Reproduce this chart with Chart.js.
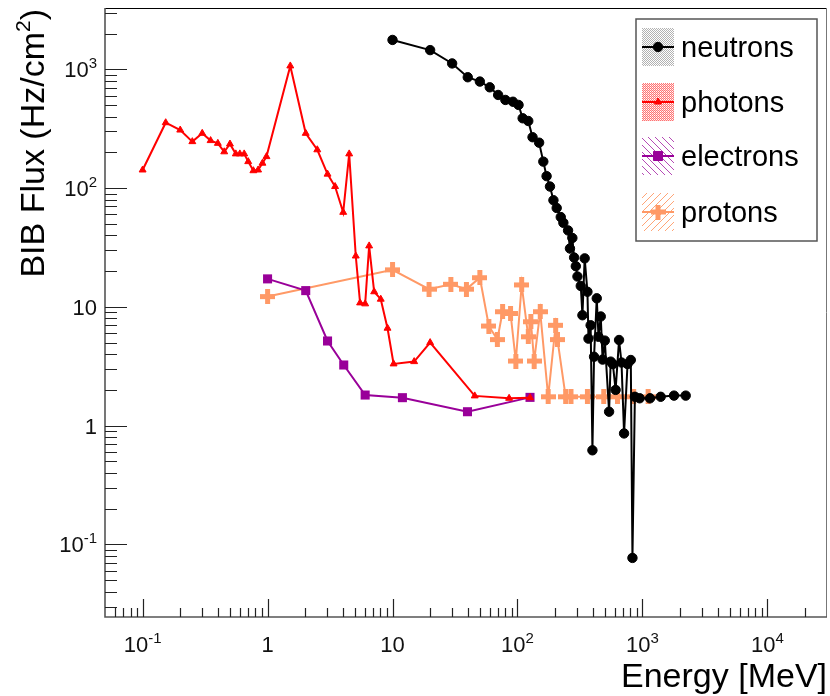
<!DOCTYPE html>
<html>
<head>
<meta charset="utf-8">
<script src="https://cdn.jsdelivr.net/npm/chart.js@4.4.1/dist/chart.umd.min.js"></script>
<style>
  html, body { margin: 0; padding: 0; background: #fff; }
  canvas { display: block; }
</style>
</head>
<body>
<canvas id="flux" width="830" height="696"></canvas>
<script>
// energies in MeV, flux in Hz/cm^2
const neutronE = [10, 20, 30, 40, 50, 60, 70, 80, 92, 102, 110, 122, 132, 149, 161, 171, 182, 194, 206, 222,
  233, 254, 263, 275, 284, 293, 302, 321, 331, 345, 363, 370, 385, 398, 410, 431, 445, 464, 480, 500,
  541, 557, 580, 610, 650, 680, 713, 760, 807, 832, 870, 950, 1150, 1400, 1790, 2220];
const neutronF = [1766, 1450, 1120, 857, 788, 705, 608, 552, 533, 501, 387, 367, 268, 241, 167, 126, 103, 79, 68, 57,
  51, 44, 31, 38, 26, 22, 18, 15, 8.5, 25.6, 13.4, 5.4, 7.0, 0.62, 3.8, 11.8, 5.6, 8.3, 3.6, 5.2,
  1.31, 3.46, 3.3, 2.0, 5.26, 3.4, 0.86, 3.3, 3.57, 0.077, 1.75, 1.7, 1.7, 1.75, 1.79, 1.79];

const photonE = [0.1, 0.153, 0.2, 0.25, 0.3, 0.35, 0.4, 0.45, 0.5, 0.557, 0.6, 0.65, 0.7, 0.77, 0.84, 0.91, 0.98,
  1.52, 2.02, 2.5, 3.02, 3.47, 4.03, 4.5, 5.08, 5.5, 6.04, 6.5, 7.13, 8.05, 9.12, 10.2, 14.9, 20, 45.5, 85.7, 126];
const photonF = [142, 355, 308, 246, 289, 251, 238, 202, 235, 194, 194, 194, 167, 140, 142, 162, 184,
  1067, 289, 210, 131, 103, 62.5, 194, 26.8, 10.8, 10.6, 32.6, 13.4, 11.6, 6.61, 3.31, 3.46, 5.0, 1.78, 1.70, 1.72];

const electronE = [1.0, 2.02, 3.02, 4.07, 6.04, 12.0, 39.8, 126];
const electronF = [17.2, 13.7, 5.16, 3.24, 1.81, 1.72, 1.31, 1.73];

const protonE = [1.0, 10, 19.6, 29.3, 39, 50, 59, 69, 76, 88, 97, 108, 122, 128, 136, 152, 176, 202, 209,
  243, 268, 363, 490, 631, 851, 1110];
const protonF = [12.2, 20.5, 14.1, 15.5, 14.1, 17.6, 6.9, 5.3, 9.1, 8.8, 3.5, 15.3, 5.6, 7.5, 3.5, 9.1, 1.75, 7.0, 5.3,
  1.75, 1.75, 1.75, 1.75, 1.75, 1.75, 1.75];

const xTicks = [0.1, 1, 10, 100, 1000, 10000];
const xTickLabels = ['10^-1', '1', '10', '10^2', '10^3', '10^4'];
const yTicks = [0.1, 1, 10, 100, 1000];
const yTickLabels = ['10^-1', '1', '10', '10^2', '10^3'];
const seriesNames = ['neutrons', 'photons', 'electrons', 'protons'];

const FONT = '"Liberation Sans", Arial, sans-serif';
const ORANGE = '#ff9966';
const PURPLE = '#990099';

const pts = (xs, ys) => xs.map((x, i) => ({ x: x, y: ys[i] }));

function plusMarker(color, size, arm) {
  const c = document.createElement('canvas');
  c.width = c.height = size;
  const g = c.getContext('2d');
  const o = (size - arm) / 2;
  g.fillStyle = color;
  g.fillRect(o, 0, arm, size);
  g.fillRect(0, o, size, arm);
  return c;
}
const protonMarker = plusMarker(ORANGE, 15, 5);

function makePattern(ctx, w, h, draw) {
  const c = document.createElement('canvas');
  c.width = w; c.height = h;
  draw(c.getContext('2d'));
  return ctx.createPattern(c, 'repeat');
}

// "10^2" -> base + superscript
function drawPow(ctx, label, x, y, align, size, supSize, supRise) {
  const [base, exp] = label.split('^');
  ctx.font = size + 'px ' + FONT;
  const wb = ctx.measureText(base).width;
  ctx.font = supSize + 'px ' + FONT;
  const we = exp ? ctx.measureText(exp).width : 0;
  const w = wb + we;
  let x0 = align === 'center' ? x - w / 2 : align === 'right' ? x - w : x;
  ctx.textAlign = 'left';
  ctx.textBaseline = 'alphabetic';
  ctx.font = size + 'px ' + FONT;
  ctx.fillText(base, x0, y);
  if (exp) {
    ctx.font = supSize + 'px ' + FONT;
    ctx.fillText(exp, x0 + wb, y - supRise);
  }
}

const decorations = {
  id: 'decorations',
  afterDatasetsDraw(chart) {
    const { ctx, chartArea: a, scales: { x, y } } = chart;
    ctx.save();

    // frame
    ctx.strokeStyle = '#000';
    ctx.lineWidth = 1;
    ctx.beginPath();
    ctx.moveTo(a.left, a.top + 0.5); ctx.lineTo(a.right, a.top + 0.5);
    ctx.stroke();
    ctx.strokeStyle = '#777';
    ctx.beginPath();
    ctx.moveTo(a.right - 0.5, a.top); ctx.lineTo(a.right - 0.5, a.bottom);
    ctx.stroke();
    ctx.strokeStyle = '#555';
    ctx.lineWidth = 1.6;
    ctx.beginPath();
    ctx.moveTo(a.left, a.top); ctx.lineTo(a.left, a.bottom); ctx.lineTo(a.right, a.bottom);
    ctx.stroke();

    // ticks, drawn inward
    ctx.strokeStyle = '#222';
    ctx.lineWidth = 1.2;
    ctx.beginPath();
    for (let d = -2; d <= 4; d++) {
      for (let m = 1; m <= 9; m++) {
        const v = m * Math.pow(10, d);
        if (v > x.min && v < x.max) {
          const px = Math.round(x.getPixelForValue(v)) + 0.5;
          ctx.moveTo(px, a.bottom);
          ctx.lineTo(px, a.bottom - (m === 1 ? 18 : 9));
        }
        if (v > y.min && v < y.max) {
          const py = Math.round(y.getPixelForValue(v)) + 0.5;
          ctx.moveTo(a.left, py);
          ctx.lineTo(a.left + (m === 1 ? 22 : 12), py);
        }
      }
    }
    ctx.stroke();

    // tick labels
    ctx.fillStyle = '#111';
    xTicks.forEach((v, i) => {
      drawPow(ctx, xTickLabels[i], x.getPixelForValue(v), 652, 'center', 22, 15, 9);
    });
    yTicks.forEach((v, i) => {
      drawPow(ctx, yTickLabels[i], 97, y.getPixelForValue(v) + 8, 'right', 22, 15, 9);
    });

    // axis titles
    ctx.fillStyle = '#000';
    ctx.font = '34px ' + FONT;
    ctx.textAlign = 'right';
    ctx.fillText('Energy [MeV]', a.right, 687);

    ctx.save();
    ctx.translate(44, a.top + 1);
    ctx.rotate(-Math.PI / 2);
    ctx.font = '34px ' + FONT;
    const tail = ctx.measureText(')').width;
    ctx.font = '21px ' + FONT;
    const sup = ctx.measureText('2').width;
    ctx.font = '34px ' + FONT;
    const head = ctx.measureText('BIB Flux (Hz/cm').width;
    ctx.textAlign = 'left';
    let cx = -(head + sup + tail);
    ctx.fillText('BIB Flux (Hz/cm', cx, 0);
    cx += head;
    ctx.font = '21px ' + FONT;
    ctx.fillText('2', cx, -14);
    cx += sup;
    ctx.font = '34px ' + FONT;
    ctx.fillText(')', cx, 0);
    ctx.restore();

    ctx.restore();
  },

  afterDraw(chart) {
    const ctx = chart.ctx;
    ctx.save();
    const box = { x: 636, y: 19, w: 181, h: 222 };
    ctx.fillStyle = '#fff';
    ctx.fillRect(box.x, box.y, box.w, box.h);
    ctx.strokeStyle = '#555';
    ctx.lineWidth = 1.5;
    ctx.strokeRect(box.x, box.y, box.w, box.h);

    const fills = [
      makePattern(ctx, 2, 2, g => { g.fillStyle = 'rgba(0,0,0,0.3)'; g.fillRect(0, 0, 1, 1); g.fillRect(1, 1, 1, 1); }),
      makePattern(ctx, 2, 2, g => { g.fillStyle = 'rgba(255,0,0,0.55)'; g.fillRect(0, 0, 1, 1); g.fillRect(1, 1, 1, 1); g.fillStyle = 'rgba(255,0,0,0.2)'; g.fillRect(1, 0, 1, 1); }),
      makePattern(ctx, 7, 7, g => { g.strokeStyle = '#b54ab5'; g.lineWidth = 1; g.beginPath(); g.moveTo(-1, -1); g.lineTo(8, 8); g.stroke(); }),
      makePattern(ctx, 7, 7, g => { g.strokeStyle = '#ffa577'; g.lineWidth = 1; g.beginPath(); g.moveTo(-1, 8); g.lineTo(8, -1); g.stroke(); })
    ];
    const colors = ['#000', '#ff0000', PURPLE, ORANGE];
    const rowY = [47, 102, 156, 212];
    const sx = 642, sw = 32, sh = 38;

    chart.data.datasets.forEach((ds, i) => {
      const cy = rowY[i];
      ctx.fillStyle = fills[i];
      ctx.fillRect(sx, cy - sh / 2, sw, sh);
      ctx.strokeStyle = colors[i];
      ctx.lineWidth = 2;
      ctx.beginPath();
      ctx.moveTo(sx, cy); ctx.lineTo(sx + sw, cy);
      ctx.stroke();
      ctx.fillStyle = colors[i];
      ctx.lineWidth = 1;
      Chart.helpers.drawPoint(ctx, {
        pointStyle: ds.pointStyle,
        radius: ds.pointRadius,
        borderWidth: 1,
        rotation: 0
      }, sx + sw / 2, cy);
      ctx.fillStyle = '#000';
      ctx.font = '29px ' + FONT;
      ctx.textAlign = 'left';
      ctx.textBaseline = 'alphabetic';
      ctx.fillText(seriesNames[i], 681, cy + 10);
    });
    ctx.restore();
  }
};

new Chart(document.getElementById('flux'), {
  type: 'line',
  data: {
    datasets: [
      {
        label: seriesNames[0],
        data: pts(neutronE, neutronF),
        borderColor: '#000',
        backgroundColor: '#000',
        borderWidth: 2,
        pointStyle: 'circle',
        pointRadius: 4.7,
        pointBorderWidth: 1
      },
      {
        label: seriesNames[1],
        data: pts(photonE, photonF),
        borderColor: '#ff0000',
        backgroundColor: '#ff0000',
        borderWidth: 2,
        pointStyle: 'triangle',
        pointRadius: 4,
        pointBorderWidth: 1
      },
      {
        label: seriesNames[2],
        data: pts(electronE, electronF),
        borderColor: PURPLE,
        backgroundColor: PURPLE,
        borderWidth: 2,
        pointStyle: 'rect',
        pointRadius: 6.4,
        pointBorderWidth: 0
      },
      {
        label: seriesNames[3],
        data: pts(protonE, protonF),
        borderColor: ORANGE,
        backgroundColor: ORANGE,
        borderWidth: 2,
        pointStyle: protonMarker,
        pointRadius: 7
      }
    ]
  },
  options: {
    responsive: false,
    animation: false,
    devicePixelRatio: 1,
    layout: { autoPadding: false, padding: { left: 105, top: 8, right: 3, bottom: 79 } },
    elements: { line: { tension: 0 } },
    plugins: {
      legend: { display: false },
      tooltip: { enabled: false }
    },
    scales: {
      x: { type: 'logarithmic', min: 0.05, max: 30000, display: false },
      y: { type: 'logarithmic', min: 0.0245, max: 3280, display: false }
    }
  },
  plugins: [decorations]
});
</script>
</body>
</html>
